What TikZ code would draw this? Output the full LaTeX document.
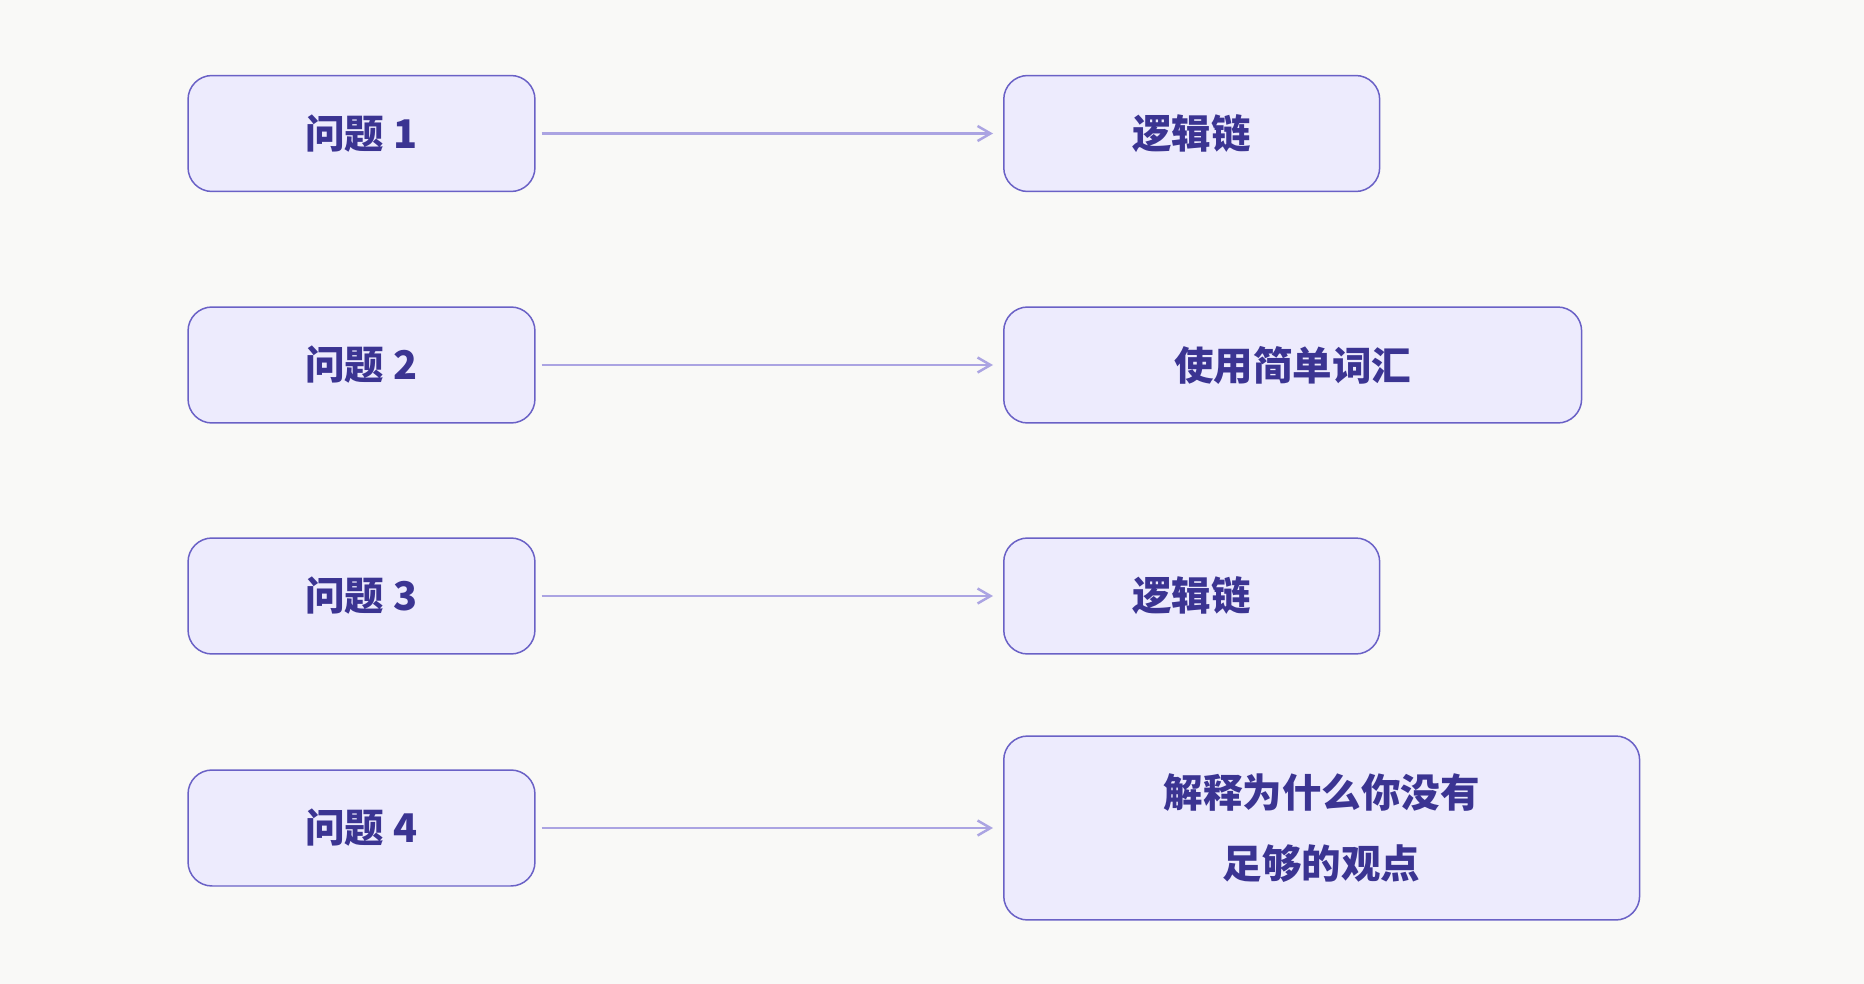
\documentclass[tikz,border=0pt]{standalone}
\usepackage{fontspec}
\newfontfamily\cjk{Noto Sans CJK SC}
\usetikzlibrary{arrows.meta, positioning}
\definecolor{bgpaper}{HTML}{F9F9F7}
\definecolor{boxfill}{HTML}{EDEBFD}
\definecolor{boxline}{HTML}{6A61C6}
\definecolor{boxtext}{HTML}{3B3492}
\definecolor{linkline}{HTML}{ABA4E2}

\begin{document}
\begin{tikzpicture}[x=0.02cm, y=-0.02cm,
    qbox/.style={draw=boxline, line width=0.85pt, fill=boxfill, rounded corners=0.48cm,
      minimum height=2.32cm, inner sep=0pt, text=boxtext,
      font=\cjk\bfseries\fontsize{22.5pt}{40pt}\selectfont, align=center},
    link/.style={draw=linkline, line width=1.5pt, shorten <=0.12cm, shorten >=0.2cm,
      -{Straight Barb[length=0.26cm, width=0.3cm, line width=1.4pt]}}]
      % background
      \fill[bgpaper] (0,0) rectangle (1864,984);
      \useasboundingbox (0,0) rectangle (1864,984);

      % questions
      \node[qbox, minimum width=6.94cm] (q1) at (361.5,133.5) {问题 1};
      \node[qbox, minimum width=6.94cm] (q2) at (361.5,365) {问题 2};
      \node[qbox, minimum width=6.94cm] (q3) at (361.5,596) {问题 3};
      \node[qbox, minimum width=6.94cm] (q4) at (361.5,828) {问题 4};

      % answers
      \node[qbox, anchor=west, minimum width=7.52cm] (a1) at (1003,133.5) {逻辑链};
      \node[qbox, anchor=west, minimum width=11.56cm] (a2) at (1003,365) {使用简单词汇};
      \node[qbox, anchor=west, minimum width=7.52cm] (a3) at (1003,596) {逻辑链};
      \node[qbox, anchor=west, minimum width=12.72cm, minimum height=3.68cm] (a4) at (1003,828)
        {解释为什么你没有\\足够的观点};

      % links
      \draw[link] (q1) -- (a1);
      \draw[link] (q2) -- (a2);
      \draw[link] (q3) -- (a3);
      \draw[link] (q4) -- (a4);
    \end{tikzpicture}
\end{document}
